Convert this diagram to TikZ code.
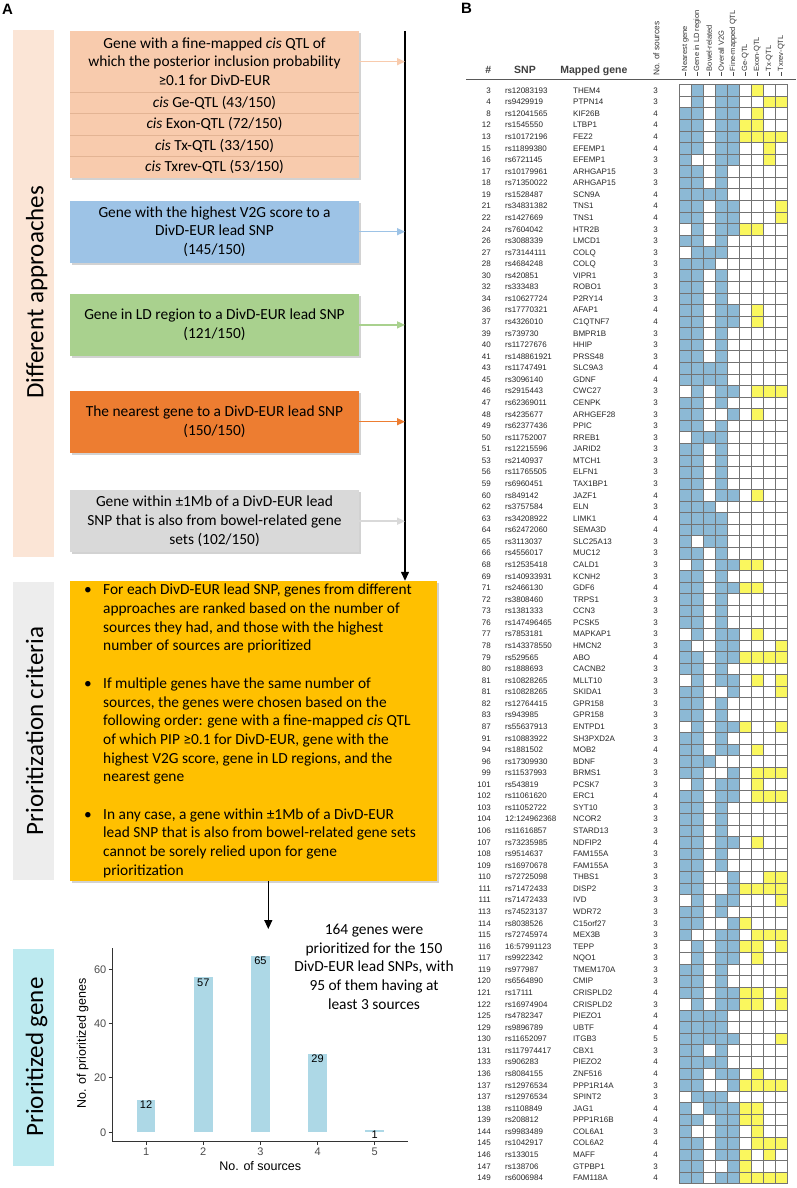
\documentclass[tikz,border=0pt]{standalone}
\usepackage{fontspec}
\setmainfont{Carlito}
\newfontfamily\arialf{Liberation Sans}
\usetikzlibrary{arrows.meta,shadows}
\definecolor{bandA}{HTML}{FBE5D6}
\definecolor{bandB}{HTML}{EDEDED}
\definecolor{bandC}{HTML}{BDEAF0}
\definecolor{peachbox}{HTML}{F8CBAD}
\definecolor{bluebox}{HTML}{9DC3E6}
\definecolor{greenbox}{HTML}{A9D18E}
\definecolor{orangebox}{HTML}{ED7D31}
\definecolor{graybox}{HTML}{D9D9D9}
\definecolor{yellowbox}{HTML}{FFC000}
\definecolor{barblue}{HTML}{ADD8E6}
\definecolor{cellblue}{HTML}{8CB9D5}
\definecolor{cellyellow}{HTML}{FAF75E}
\definecolor{axisgray}{HTML}{4D4D4D}
\definecolor{divcol}{HTML}{E3B494}

\newcommand\gridcell[3]{\ifnum#2=1 \fill[#3] ({679.3+(#1-1)*12},\ry) rectangle ++(12,11.568);\fi}
\newcommand\rowcells[9]{\gridcell{1}{#1}{cellblue}\gridcell{2}{#2}{cellblue}\gridcell{3}{#3}{cellblue}\gridcell{4}{#4}{cellblue}\gridcell{5}{#5}{cellblue}\gridcell{6}{#6}{cellyellow}\gridcell{7}{#7}{cellyellow}\gridcell{8}{#8}{cellyellow}\gridcell{9}{#9}{cellyellow}}

\tikzset{
  boxtxt/.style={font=\fontsize{15.4}{18.7}\selectfont, align=center, inner sep=0pt},
  abox/.style={boxtxt, minimum width=289pt, drop shadow={shadow xshift=1.5pt, shadow yshift=-2pt, opacity=0.35}},
  plainbox/.style={boxtxt, minimum width=289pt},
  bandbox/.style={inner sep=0pt, minimum width=41.5pt},
  bandlabel/.style={rotate=90, anchor=base, inner sep=0pt, font=\fontsize{25}{30}\selectfont},
  feed/.style={line width=1.5pt, -{Triangle[length=8pt,width=7pt]}},
  flow/.style={line width=1.3pt, black, -{Triangle[length=9pt,width=8pt]}},
  divline/.style={line width=1pt, divcol},
  tabtxt/.style={font=\arialf\fontsize{8}{9}\selectfont, inner sep=0pt, text=black!85},
  headtxt/.style={font=\arialf\bfseries\fontsize{10.5}{12}\selectfont, inner sep=0pt, text=black!75},
  coltxt/.style={font=\arialf\fontsize{7.5}{9}\selectfont, inner sep=0pt, text=black!80},
  tickline/.style={line width=0.6pt, black!70},
  gridline/.style={line width=0.35pt, black!55},
  axisline/.style={line width=1pt, black!80},
  ticklab/.style={font=\arialf\fontsize{11}{13}\selectfont, inner sep=0pt, text=axisgray},
  barlab/.style={font=\arialf\fontsize{11}{13}\selectfont, inner sep=0pt, text=black},
  axtitle/.style={font=\arialf\fontsize{12.5}{15}\selectfont, inner sep=0pt, text=black},
  panel/.style={font=\arialf\bfseries\fontsize{15}{18}\selectfont, inner sep=0pt},
}

\begin{document}
\begin{tikzpicture}[x=1pt,y=-1pt]
\useasboundingbox (0,0) rectangle (796,1188);
\fill[white] (0,0) rectangle (796,1188);

% panel letters
\node[panel, anchor=north west] (lA) at (2,4) {A};
\node[panel, anchor=north west] (lB) at (461,3) {B};

% bands
\node[bandbox, fill=bandA, minimum height=527pt] (bandA) at (33.5,293.5) {};
\node[bandbox, fill=bandB, minimum height=298.3pt] (bandB) at (33.5,730.85) {};
\node[bandbox, fill=bandC, minimum height=216.7pt] (bandC) at (33.5,1057.35) {};
\node[bandlabel] (labA) at (43.3,292.5) {Different approaches};
\node[bandlabel] (labB) at (43,731) {Prioritization criteria};
\node[bandlabel] (labC) at (43,1057) {Prioritized gene};

% approach boxes
\node[abox, fill=peachbox, minimum height=147pt] (fm) at (214.5,104.5) {};
\node[plainbox, minimum height=61.3pt] (fmtop) at (214.5,61.65)
  {Gene with a fine-mapped \textit{cis} QTL of\\which the posterior inclusion probability\\≥0.1 for DivD-EUR};
\node[plainbox, minimum height=21.4pt] (geq) at (214.5,103.0) {\textit{cis} Ge-QTL (43/150)};
\node[plainbox, minimum height=21.4pt] (exq) at (214.5,124.4) {\textit{cis} Exon-QTL (72/150)};
\node[plainbox, minimum height=21.4pt] (txq) at (214.5,145.9) {\textit{cis} Tx-QTL (33/150)};
\node[plainbox, minimum height=21.4pt] (txrq) at (214.5,167.3) {\textit{cis} Txrev-QTL (53/150)};
\draw[divline] (70,92.3) -- (359,92.3);
\draw[divline] (70,113.7) -- (359,113.7);
\draw[divline] (70,135.15) -- (359,135.15);
\draw[divline] (70,156.6) -- (359,156.6);

\node[abox, fill=bluebox, minimum height=62pt] (v2g) at (214.5,231.7)
  {Gene with the highest V2G score to a\\DivD-EUR lead SNP\\(145/150)};
\node[abox, fill=greenbox, minimum height=61.7pt] (ld) at (214.5,324.9)
  {Gene in LD region to a DivD-EUR lead SNP\\(121/150)};
\node[abox, fill=orangebox, minimum height=62pt] (near) at (214.5,421.7)
  {The nearest gene to a DivD-EUR lead SNP\\(150/150)};
\node[abox, fill=graybox, minimum height=62.3pt] (bowel) at (214.5,521.2)
  {Gene within ±1Mb of a DivD-EUR lead\\SNP that is also from bowel-related gene\\sets (102/150)};

% criteria box
\node[inner sep=0pt, fill=yellowbox, minimum width=367pt, minimum height=299.7pt,
      drop shadow={shadow xshift=1.5pt, shadow yshift=-2pt, opacity=0.35}] (crit) at (253.5,730.85) {};
\node[inner sep=0pt, align=left, anchor=west, font=\fontsize{15.4}{18.7}\selectfont] (crittext) at (84,731)
  {\makebox[19pt][l]{•}For each DivD-EUR lead SNP, genes from different\\
   \hspace*{19pt}approaches are ranked based on the number of\\
   \hspace*{19pt}sources they had, and those with the highest\\
   \hspace*{19pt}number of sources are prioritized\\[18.7pt]
   \makebox[19pt][l]{•}If multiple genes have the same number of\\
   \hspace*{19pt}sources, the genes were chosen based on the\\
   \hspace*{19pt}following order: gene with a fine-mapped \textit{cis} QTL\\
   \hspace*{19pt}of which PIP ≥0.1 for DivD-EUR, gene with the\\
   \hspace*{19pt}highest V2G score, gene in LD regions, and the\\
   \hspace*{19pt}nearest gene\\[18.7pt]
   \makebox[19pt][l]{•}In any case, a gene within ±1Mb of a DivD-EUR\\
   \hspace*{19pt}lead SNP that is also from bowel-related gene sets\\
   \hspace*{19pt}cannot be sorely relied upon for gene\\
   \hspace*{19pt}prioritization};

% connectors
\coordinate (spine) at (405,31);
\draw[flow] (spine) -- (spine |- crit.north);
\draw[feed, peachbox] (fmtop.east) -- (fmtop.east -| spine);
\draw[feed, bluebox] (v2g.east) -- (v2g.east -| spine);
\draw[feed, greenbox] (ld.east) -- (ld.east -| spine);
\draw[feed, orangebox] (near.east) -- (near.east -| spine);
\draw[feed, graybox] (bowel.east) -- (bowel.east -| spine);
\coordinate (chartin) at (268.3,929);
\draw[flow] (crit.south -| chartin) -- (chartin);

% bar chart
\foreach \v [count=\k] in {12,57,65,29,1} {
  \pgfmathsetmacro\bx{146.1+(\k-1)*57.17}
  \pgfmathsetmacro\btop{1132.3-\v*2.717}
  \fill[barblue] ({\bx-9.35},1132.3) rectangle ({\bx+9.35},\btop);
  \node[barlab, anchor=north] (bl\k) at (\bx,{\btop+0.8}) {\v};
  \draw[axisline] (\bx,1141) -- (\bx,1144.5);
  \node[ticklab, anchor=north] (xt\k) at (\bx,1147.5) {\k};
}
\draw[axisline] (112,948) -- (112,1141) -- (408.3,1141);
\foreach \t in {0,20,40,60} {
  \pgfmathsetmacro\ty{1132.3-\t*2.717}
  \draw[axisline] (108.5,\ty) -- (112,\ty);
  \node[ticklab, anchor=east] (yt\t) at (106.5,\ty) {\t};
}
\node[axtitle] (xtitle) at (260.3,1166) {No. of sources};
\node[axtitle, rotate=90] (ytitle) at (82.7,1043.3) {No. of prioritized genes};
\node[boxtxt] (note) at (374,966.7) {164 genes were\\prioritized for the 150\\DivD-EUR lead SNPs, with\\95 of them having at\\least 3 sources};

% table header
\node[headtxt, anchor=base] (hnum) at (488.3,74) {\#};
\node[headtxt, anchor=base] (hsnp) at (525,74) {SNP};
\node[headtxt, anchor=base] (hgene) at (593.8,74) {Mapped gene};
\node[coltxt, rotate=90, anchor=west, font=\arialf\fontsize{8.3}{10}\selectfont] (hsrc) at (656.5,76) {No. of sources};
\foreach \lab [count=\k from 0] in {Nearest gene,Gene in LD region,Bowel-related,Overall V2G,Fine-mapped QTL,Ge-QTL,Exon-QTL,Tx-QTL,Txrev-QTL} {
  \pgfmathsetmacro\cx{685.3+\k*12}
  \draw[tickline] (\cx,72.5) -- (\cx,76.5);
  \node[coltxt, rotate=90, anchor=west] (col\k) at (\cx,71.3) {\lab};
}
\draw[line width=1.2pt, black!65] (466,79.5) -- (796,79.5);

% table rows
\foreach \rn/\rs/\rg/\rc/\rp [count=\i from 0] in {
3/rs12083193/THEM4/3/010110100,
4/rs9429919/PTPN14/3/010110011,
8/rs12041565/KIF26B/4/110110100,
12/rs1545550/LTBP1/4/110111100,
13/rs10172196/FEZ2/4/110111111,
15/rs11899380/EFEMP1/4/110110010,
16/rs6721145/EFEMP1/3/100110010,
17/rs10179961/ARHGAP15/3/110100000,
18/rs71350022/ARHGAP15/3/110100000,
19/rs1528487/SCN9A/4/111100000,
21/rs34831382/TNS1/4/110110001,
22/rs1427669/TNS1/4/110110001,
24/rs7604042/HTR2B/3/010111100,
26/rs3088339/LMCD1/3/110100000,
27/rs73144111/COLQ/3/011100000,
28/rs4684248/COLQ/3/111000000,
30/rs420851/VIPR1/3/110100000,
32/rs333483/ROBO1/3/110100000,
34/rs10627724/P2RY14/3/110100000,
36/rs17770321/AFAP1/4/110110100,
37/rs4326010/C1QTNF7/4/110110100,
39/rs739730/BMPR1B/3/110100000,
40/rs11727676/HHIP/3/110100000,
41/rs148861921/PRSS48/3/110100000,
43/rs11747491/SLC9A3/4/111100000,
45/rs3096140/GDNF/4/111100000,
46/rs2915443/CWC27/3/010110111,
47/rs62369011/CENPK/3/110100000,
48/rs4235677/ARHGEF28/3/110010100,
49/rs62377436/PPIC/3/110100000,
50/rs11752007/RREB1/3/011100000,
51/rs12215596/JARID2/3/110100000,
53/rs2140937/MTCH1/3/110100000,
56/rs11765505/ELFN1/3/110100000,
59/rs6960451/TAX1BP1/3/110100000,
60/rs849142/JAZF1/4/110110100,
62/rs3757584/ELN/3/111000000,
63/rs34208922/LIMK1/4/111100000,
64/rs62472060/SEMA3D/4/111100000,
65/rs3113037/SLC25A13/3/101100000,
66/rs4556017/MUC12/3/110100000,
68/rs12535418/CALD1/3/010111100,
69/rs140933931/KCNH2/3/110100000,
71/rs2466130/GDF6/4/110111100,
72/rs3808460/TRPS1/3/110100000,
73/rs1381333/CCN3/3/110100000,
76/rs147496465/PCSK5/3/110100000,
77/rs7853181/MAPKAP1/3/010110100,
78/rs143378550/HMCN2/3/100110001,
79/rs529565/ABO/4/110111111,
80/rs1888693/CACNB2/3/110100000,
81/rs10828265/MLLT10/3/010110101,
81/rs10828265/SKIDA1/3/110010001,
82/rs12764415/GPR158/3/110100000,
83/rs943985/GPR158/3/110100000,
87/rs55637913/ENTPD1/3/010111001,
91/rs10883922/SH3PXD2A/3/110100000,
94/rs1881502/MOB2/4/110110100,
96/rs17309930/BDNF/3/111000000,
99/rs11537993/BRMS1/3/110010111,
101/rs543819/PCSK7/3/010110100,
102/rs11061620/ERC1/4/110110111,
103/rs11052722/SYT10/3/110100000,
104/12:124962368/NCOR2/3/110100000,
106/rs11616857/STARD13/3/110100000,
107/rs73235985/NDFIP2/4/110110100,
108/rs9514637/FAM155A/3/110100000,
109/rs16970678/FAM155A/3/110100000,
110/rs72725098/THBS1/3/110010011,
111/rs71472433/DISP2/3/110011111,
111/rs71472433/IVD/3/010110001,
113/rs74523137/WDR72/3/110100000,
114/rs8038526/C15orf27/3/110011000,
115/rs72745974/MEX3B/3/100110111,
116/16:57991123/TEPP/3/010111101,
117/rs9922342/NQO1/3/010110100,
119/rs977987/TMEM170A/3/110100000,
120/rs6564890/CMIP/3/110100000,
121/rs17111/CRISPLD2/4/110111101,
122/rs16974904/CRISPLD2/3/010111101,
125/rs4782347/PIEZO1/4/111100000,
129/rs9896789/UBTF/4/111100000,
130/rs11652097/ITGB3/5/111110001,
131/rs117974417/CBX1/3/110100000,
133/rs906283/PIEZO2/4/111100000,
136/rs8084155/ZNF516/4/110110100,
137/rs12976534/PPP1R14A/3/110011111,
137/rs12976534/SPINT2/3/011100000,
138/rs1108849/JAG1/4/101111100,
139/rs208812/PPP1R16B/4/110111100,
144/rs9983489/COL6A1/3/100110100,
145/rs1042917/COL6A2/4/110110111,
146/rs133015/MAFF/4/110111010,
147/rs138706/GTPBP1/3/110011000,
149/rs6006984/FAM118A/4/110111111} {
  \pgfmathsetmacro\ry{84.5+\i*11.568}
  \node[tabtxt, anchor=base east] (num\i) at (491,{\ry+8.7}) {\rn};
  \node[tabtxt, anchor=base west] (snp\i) at (505,{\ry+8.7}) {\rs};
  \node[tabtxt, anchor=base west] (gene\i) at (573,{\ry+8.7}) {\rg};
  \node[tabtxt, anchor=base] (src\i) at (655.7,{\ry+8.7}) {\rc};
  \expandafter\rowcells\rp
}
\foreach \k in {0,...,9} \draw[gridline] ({679.3+\k*12},84.5) -- ({679.3+\k*12},1183.5);
\foreach \r in {0,...,95} \draw[gridline] (679.3,{84.5+\r*11.568}) -- (787.3,{84.5+\r*11.568});
\end{tikzpicture}
\end{document}
